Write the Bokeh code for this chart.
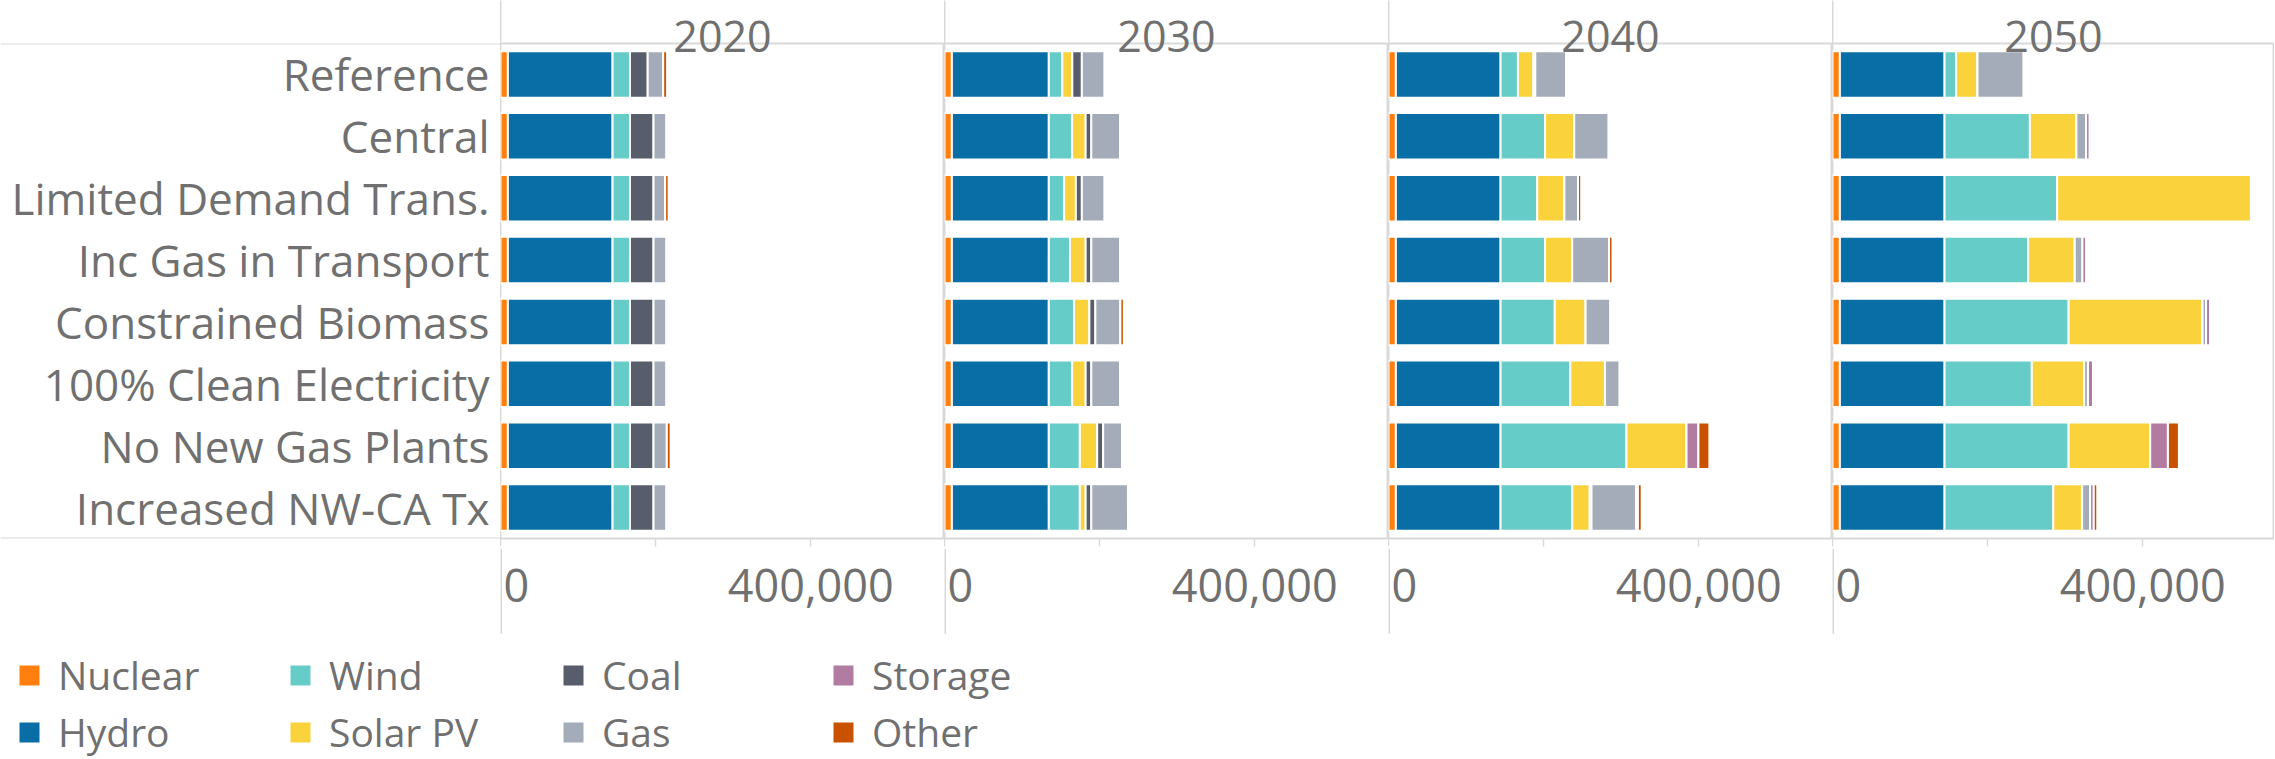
from bokeh.plotting import figure
from bokeh.models import (ColumnDataSource, FactorRange, Range1d, FixedTicker, LinearAxis,
                          Span, Legend, LegendItem, Spacer)
from bokeh.layouts import row, column
from bokeh.embed import file_html
from bokeh.resources import INLINE
from bokeh.core.properties import value

# ---------------- data ----------------
scenarios = ["Reference", "Central", "Limited Demand Trans.", "Inc Gas in Transport",
             "Constrained Biomass", "100% Clean Electricity", "No New Gas Plants",
             "Increased NW-CA Tx"]
years = ["2020", "2030", "2040", "2050"]
techs = ["Nuclear", "Hydro", "Wind", "Solar PV", "Coal", "Gas", "Storage", "Other"]
tech_colors = ["#ff800e", "#0a6ea6", "#66ccc8", "#f9d23c", "#575d6b", "#a3acb8", "#b27ba2", "#c85200"]

nuclear_2020 = [9500, 9500, 9500, 9500, 9500, 9500, 9500, 9500]
hydro_2020 = [135000, 135000, 135000, 135000, 135000, 135000, 135000, 135000]
wind_2020 = [22500, 22500, 22500, 22500, 22500, 22500, 22500, 22500]
solar_2020 = [0, 0, 0, 0, 0, 0, 0, 0]
coal_2020 = [22800, 30300, 30300, 30300, 30300, 30300, 30300, 30300]
gas_2020 = [20000, 16800, 15000, 16800, 16800, 16800, 17200, 16800]
storage_2020 = [0, 0, 0, 0, 0, 0, 0, 0]
other_2020 = [5000, 0, 4500, 0, 0, 0, 4900, 0]

nuclear_2030 = [9500, 9500, 9500, 9500, 9500, 9500, 9500, 9500]
hydro_2030 = [125000, 125000, 125000, 125000, 125000, 125000, 125000, 125000]
wind_2030 = [17400, 30100, 19800, 27300, 32500, 30100, 40000, 40000]
solar_2030 = [12900, 17400, 15100, 20200, 19800, 17400, 22400, 7500]
coal_2030 = [12300, 7300, 7700, 7300, 7700, 7300, 7700, 7300]
gas_2030 = [29500, 37000, 29500, 37000, 32300, 37000, 24300, 47300]
storage_2030 = [0, 0, 0, 0, 0, 0, 0, 0]
other_2030 = [0, 0, 0, 0, 4500, 0, 0, 0]

nuclear_2040 = [9500, 9500, 9500, 9500, 9500, 9500, 9500, 9500]
hydro_2040 = [135000, 135000, 135000, 135000, 135000, 135000, 135000, 135000]
wind_2040 = [22400, 57400, 47300, 57400, 69900, 89900, 162400, 92500]
solar_2040 = [20000, 37600, 35000, 35000, 39800, 44700, 77400, 22400]
coal_2040 = [2400, 0, 0, 0, 0, 0, 0, 2400]
gas_2040 = [39800, 44500, 17600, 47500, 32000, 19100, 0, 57600]
storage_2040 = [0, 0, 0, 0, 0, 0, 15300, 2200]
other_2040 = [0, 0, 4100, 4500, 0, 0, 14200, 4900]

nuclear_2050 = [9500, 9500, 9500, 9500, 9500, 9500, 9500, 9500]
hydro_2050 = [135000, 135000, 135000, 135000, 135000, 135000, 135000, 135000]
wind_2050 = [15000, 110000, 145200, 107700, 160000, 112500, 160000, 140200]
solar_2050 = [27500, 60000, 249900, 60200, 172700, 67500, 105200, 37200]
coal_2050 = [0, 0, 0, 0, 0, 0, 0, 0]
gas_2050 = [59600, 12500, 0, 9900, 4500, 4900, 0, 10300]
storage_2050 = [0, 4700, 0, 4700, 5200, 6500, 22800, 4700]
other_2050 = [0, 0, 0, 0, 0, 0, 14200, 4500]

x_ticks = [0, 200000, 400000]
x_tick_labels = ["0", "", "400,000"]

series = {
    "2020": [nuclear_2020, hydro_2020, wind_2020, solar_2020, coal_2020, gas_2020, storage_2020, other_2020],
    "2030": [nuclear_2030, hydro_2030, wind_2030, solar_2030, coal_2030, gas_2030, storage_2030, other_2030],
    "2040": [nuclear_2040, hydro_2040, wind_2040, solar_2040, coal_2040, gas_2040, storage_2040, other_2040],
    "2050": [nuclear_2050, hydro_2050, wind_2050, solar_2050, coal_2050, gas_2050, storage_2050, other_2050],
}

# ---------------- style / layout ----------------
FONT = "Open Sans"
TEXT = "#707070"
GRID = "#d9d9d9"
PX_PER_UNIT = 155.1 / 200000.0
LABEL_W = 500
PANEL_W = [444, 444, 444, 442]
HEADER_H = 43
FRAME_H = 495
TICK_H = 10
STRIP_H = 86
LEGEND_H = 124
LABEL_ROW_Y = 1 - 37.0 / STRIP_H   # vertical place of the value labels inside the strip

y_range = FactorRange(factors=list(reversed(scenarios)))

# label column
lab = figure(width=LABEL_W, height=HEADER_H + FRAME_H + TICK_H, x_range=Range1d(0, 1),
             y_range=y_range, toolbar_location=None, output_backend="svg",
             x_axis_location=None, y_axis_location=None, min_border_left=0,
             min_border_right=0, min_border_top=HEADER_H, min_border_bottom=TICK_H,
             outline_line_color=None)
lab.xgrid.grid_line_color = None
lab.ygrid.grid_line_color = None
lab_src = ColumnDataSource(dict(y=scenarios, x=[lab.x_range.end for _ in scenarios], t=scenarios))
lab.text(x="x", y="y", text="t", source=lab_src, x_offset=-11, text_align="right",
         text_baseline="middle", text_font=value(FONT), text_font_size="44px", text_color=TEXT)
lab.add_layout(Span(location=0, dimension="width", line_color=GRID, line_width=2))
lab.add_layout(Span(location=len(scenarios), dimension="width", line_color=GRID, line_width=2))

panels = [lab]
strips = [Spacer(width=LABEL_W, height=STRIP_H)]

for i, yr in enumerate(years):
    w = PANEL_W[i]
    xr = Range1d(0, w / PX_PER_UNIT)
    data = dict(scenario=scenarios)
    for t, vals in zip(techs, series[yr]):
        data[t] = vals
    src = ColumnDataSource(data)

    p = figure(width=w, height=HEADER_H + FRAME_H + TICK_H, x_range=xr, y_range=y_range,
               toolbar_location=None, output_backend="svg", y_axis_location=None,
               min_border_left=0, min_border_right=0, min_border_top=HEADER_H,
               min_border_bottom=TICK_H, outline_line_color=GRID, outline_line_width=2,
               outline_line_alpha=1.0)
    p.xgrid.grid_line_color = None
    p.ygrid.grid_line_color = None
    p.hbar_stack(techs, y="scenario", height=0.75, source=src, fill_color=tech_colors,
                 line_color="white", line_width=2)

    # bottom value axis: only tick marks hanging under the pane (values are in the strip)
    ax = p.xaxis[0]
    ax.ticker = FixedTicker(ticks=[], minor_ticks=x_ticks)
    ax.axis_line_color = None
    ax.major_tick_in = 0
    ax.major_tick_out = 0
    ax.minor_tick_in = 0
    ax.minor_tick_out = 8
    ax.minor_tick_line_color = GRID
    ax.minor_tick_line_width = 1.5
    ax.major_label_standoff = 0

    # header: year as the label of a top axis, its minor tick draws the pane divider
    top = LinearAxis(ticker=FixedTicker(ticks=[], minor_ticks=[0]), axis_label=yr)
    top.axis_line_color = None
    top.major_tick_in = 0
    top.major_tick_out = 0
    top.minor_tick_in = 0
    top.minor_tick_out = HEADER_H
    top.minor_tick_line_color = GRID
    top.minor_tick_line_width = 2
    top.axis_label_standoff = -51
    top.axis_label_text_font = FONT
    top.axis_label_text_font_size = "43px"
    top.axis_label_text_font_style = "normal"
    top.axis_label_text_color = TEXT
    p.add_layout(top, "above")
    panels.append(p)

    # value-label strip under the pane (same x scale)
    s = figure(width=w, height=STRIP_H, x_range=xr, y_range=Range1d(0, 1),
               toolbar_location=None, output_backend="svg", x_axis_location=None,
               y_axis_location=None, min_border=0, outline_line_color=None)
    s.xgrid.grid_line_color = None
    s.ygrid.grid_line_color = None
    s.add_layout(Span(location=x_ticks[0], dimension="height", line_color=GRID, line_width=3))
    s.text(x=[x_ticks[0]], y=[LABEL_ROW_Y], text=[x_tick_labels[0]], x_offset=3,
           text_align="left", text_baseline="middle", text_font=value(FONT),
           text_font_size="45px", text_color=TEXT)
    rest = [(x, t) for x, t in zip(x_ticks[1:], x_tick_labels[1:]) if t]
    s.text(x=[x for x, _ in rest], y=[LABEL_ROW_Y for _ in rest], text=[t for _, t in rest],
           text_align="center", text_baseline="middle", text_font=value(FONT),
           text_font_size="45px", text_color=TEXT)
    strips.append(s)

# legend
total_w = LABEL_W + sum(PANEL_W)
leg = figure(width=total_w, height=LEGEND_H, x_range=Range1d(0, 1), y_range=Range1d(0, 1),
             toolbar_location=None, output_backend="svg", x_axis_location=None,
             y_axis_location=None, min_border=0, outline_line_color=None)
leg.xgrid.grid_line_color = None
leg.ygrid.grid_line_color = None
rends = [leg.scatter(x=[-5], y=[-5], marker="square", size=20, fill_color=c, line_color=None)
         for c in tech_colors]
legend_x = [4, 275, 548, 818]
for k, lx in enumerate(legend_x):
    items = [LegendItem(label=techs[2 * k], renderers=[rends[2 * k]]),
             LegendItem(label=techs[2 * k + 1], renderers=[rends[2 * k + 1]])]
    L = Legend(items=items, location=(lx, 0), orientation="vertical",
               glyph_width=50, glyph_height=50, label_height=50, label_standoff=4,
               spacing=4, padding=0, margin=0, border_line_color=None,
               background_fill_alpha=0, label_text_font=FONT,
               label_text_font_size="39px", label_text_color=TEXT)
    leg.add_layout(L, "center")

layout = column(row(*panels), row(*strips), leg)
open("out.html", "w").write(file_html(layout, INLINE))
